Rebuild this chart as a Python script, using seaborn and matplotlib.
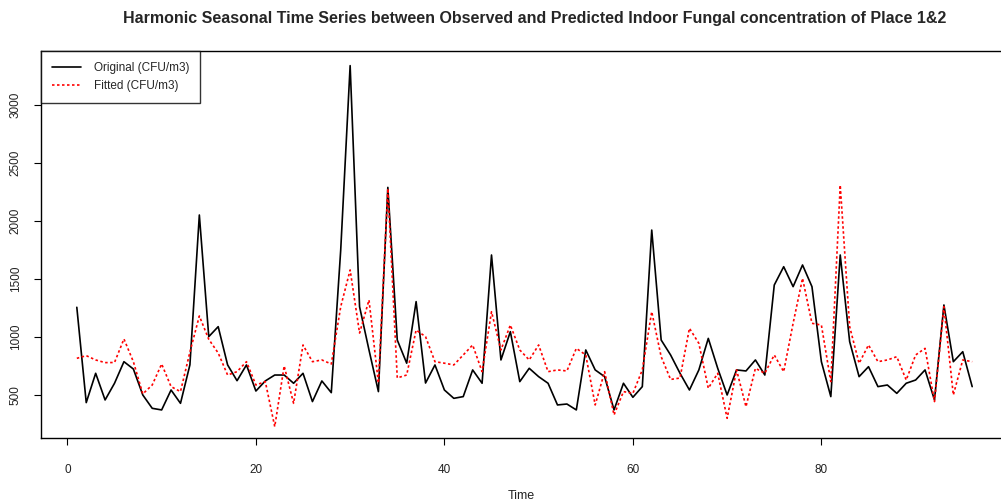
import numpy as np
import pandas as pd
import matplotlib
matplotlib.use("Agg")
import matplotlib.pyplot as plt
import seaborn as sns

time = list(range(1, 97))
original = [1256, 434, 687, 457, 601, 787, 724, 500, 385, 371, 543, 428, 760, 2052, 1003, 1089,
            759, 623, 759, 534, 621, 672, 672, 601, 687, 443, 621, 520, 1750, 3340, 1261, 888,
            529, 2290, 974, 774, 1305, 603, 759, 543, 471, 486, 716, 601, 1707, 802, 1046, 615,
            730, 658, 601, 414, 422, 371, 888, 716, 658, 371, 601, 480, 572, 1922, 974, 845,
            687, 543, 716, 988, 730, 500, 716, 707, 802, 672, 1448, 1606, 1434, 1621, 1434, 787,
            486, 1707, 960, 658, 744, 572, 586, 514, 601, 629, 716, 457, 1276, 787, 873, 572]
fitted = [816, 839, 802, 779, 780, 983, 787, 509, 586, 767, 572, 529, 870, 1181, 980, 862,
          672, 701, 787, 586, 615, 227, 750, 428, 931, 787, 802, 767, 1261, 1578, 1034, 1319,
          603, 2280, 647, 672, 1060, 1003, 787, 774, 759, 845, 931, 701, 1218, 888, 1103, 888,
          802, 931, 701, 716, 707, 902, 845, 414, 701, 328, 529, 514, 716, 1218, 830, 634,
          646, 1075, 945, 558, 687, 299, 716, 399, 730, 687, 845, 701, 1118, 1506, 1118, 1103,
          615, 2310, 1089, 773, 931, 787, 802, 830, 629, 845, 902, 443, 1261, 500, 802, 787]
labels = ["Original (CFU/m3)", "Fitted (CFU/m3)"]
title = "Harmonic Seasonal Time Series between Observed and Predicted Indoor Fungal concentration of Place 1&2"

sns.set_style("white")
plt.rcParams['font.family'] = ['Liberation Sans', 'DejaVu Sans']

df = pd.DataFrame({"Time": time, "Original": original, "Fitted": fitted})

W, H = 1001, 504
fig = plt.figure(figsize=(W / 100, H / 100), dpi=100)
ax = fig.add_axes([41 / W, (H - 438) / H, (1008 - 41) / W, (438 - 51) / H])

sns.lineplot(data=df, x="Time", y="Original", ax=ax, color="black", lw=1.2, label=labels[0])
sns.lineplot(data=df, x="Time", y="Fitted", ax=ax, color="red", lw=1.2,
             linestyle=(0, (1.5, 1.5)), label=labels[1])

ax.set_xlim(-2.8, 99.8)
ax.set_ylim(129, 3466)
ax.set_xticks([0, 20, 40, 60, 80])
ax.set_yticks([500, 1000, 1500, 2000, 2500, 3000])
ax.tick_params(axis="both", direction="out", length=5, width=0.8, color="black",
               labelsize=8.5, labelcolor="#222222", left=True, bottom=True)
ax.tick_params(axis="x", pad=14)
ax.tick_params(axis="y", pad=9)
for lab in ax.get_yticklabels():
    lab.set_rotation(90)
    lab.set_va("center")
for s in ax.spines.values():
    s.set_color("black")
    s.set_linewidth(1.0)
    s.set_visible(True)

ax.set_xlabel("")
ax.set_ylabel("")
fig.text(521 / W, 1 - 496 / H, "Time", ha="center", va="center", fontsize=9,
         color="#222222")

leg = ax.legend(loc="upper left", frameon=True, fancybox=False, fontsize=8.5,
                borderaxespad=0, handlelength=2.4, borderpad=0.95, labelspacing=0.5,
                handletextpad=1.1)
leg.get_frame().set_edgecolor("black")
leg.get_frame().set_linewidth(1.0)

fig.text(535 / W, 1 - 18 / H, title, ha="center", va="center", fontsize=11.5,
         fontweight="bold")

fig.savefig("out.png", dpi=100)
